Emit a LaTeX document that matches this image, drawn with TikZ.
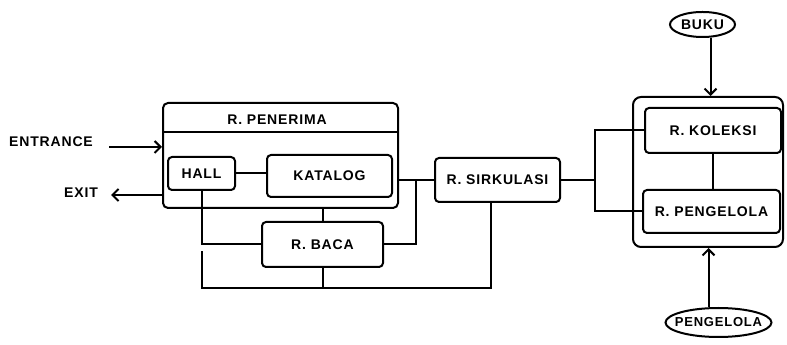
\documentclass[tikz,border=0pt]{standalone}
\usepackage{fontspec}
\setmainfont{Liberation Sans}[LetterSpace=6]
\usetikzlibrary{arrows.meta, shapes.geometric}

\begin{document}
\begin{tikzpicture}[x=1pt, y=1pt,
			line width=2pt,
			>={Straight Barb[length=6pt, width=12pt]},   %Pfeilspitzen offen
			raum/.style={draw, rounded corners=4pt, inner sep=0pt},
			gruppe/.style={draw, rounded corners=5pt},
			extern/.style={draw, ellipse},
			font=\fontsize{14}{16}\selectfont\bfseries]
			\useasboundingbox (0,0) rectangle (787,345);
			%Gruppen zeichnen
			\node[gruppe, minimum width=235, minimum height=105] (penerima) at (280.5,189.5) {};
			\node[gruppe, rounded corners=8pt, minimum width=150, minimum height=150] (lager) at (708,173) {};
			\draw ([yshift=-30pt]penerima.north west) -- ([yshift=-30pt]penerima.north east);
			\node (titel) at (277,225) {R. PENERIMA};
			% Raeume zeichnen
			\node[raum, minimum width=67, minimum height=33] (hall) at (201.5,171.5) {HALL};
			\node[raum, minimum width=125, minimum height=42] (katalog) at (329.5,169) {KATALOG};
			\node[raum, minimum width=121, minimum height=45] (baca) at (322.5,100.5) {R. BACA};
			\node[raum, minimum width=125, minimum height=44] (sirkulasi) at (497.5,165) {R. SIRKULASI};
			\node[raum, minimum width=136, minimum height=45] (koleksi) at (713,214.5) {R. KOLEKSI};
			\node[raum, minimum width=137, minimum height=43] (pengelola) at (711.5,133.5) {R. PENGELOLA};
			% Aussenstellen
			\node[extern, inner sep=1pt, minimum width=65, minimum height=25] (buku) at (702.5,320.5) {BUKU};
			\node[extern, font=\fontsize{13}{15}\selectfont\bfseries, inner xsep=-12pt, inner ysep=-2pt, minimum width=106, minimum height=29] (pengelolaE) at (718.5,22.5) {PENGELOLA};
			% Ein- und Ausgang
			\node (entrance) at (51,203) {ENTRANCE};
			\node (exit) at (81,152) {EXIT};
			\draw[->] ([xshift=12pt, yshift=-5pt]entrance.east) -- ([yshift=-5pt]entrance.east -| penerima.west);
			\draw[->] ([yshift=-2pt]penerima.west |- exit.east) -- ([xshift=9pt, yshift=-2pt]exit.east);
			%Verbindungen zeichnen
			\draw (hall.east) -- (hall.east -| katalog.west);
			\draw (hall.south) |- (baca.west);
			\draw (baca.north) -- (baca.north |- penerima.south);
			\draw (penerima.east |- sirkulasi.west) -- (sirkulasi.west);
			\draw (baca.east) -| ([xshift=17pt]penerima.east |- sirkulasi.west);
			\coordinate (unten) at (322.5,57);
			\draw ([yshift=-7pt]hall.south |- baca.west) |- (unten) -| ([xshift=-7pt]sirkulasi.south);
			\draw (baca.south) -- (unten);
			\coordinate (verteiler) at (595,165);
			\draw (sirkulasi.east) -- (verteiler);
			\draw (koleksi.west) -| (verteiler) |- (pengelola.west);
			\draw (koleksi.south) -- (koleksi.south |- pengelola.north);
			\draw[->] ([xshift=8pt]buku.south) -- ([xshift=8pt]buku.south |- lager.north);
			\draw[->] ([xshift=-10pt]pengelolaE.north) -- ([xshift=-10pt]pengelolaE.north |- lager.south);
\end{tikzpicture}
\end{document}
